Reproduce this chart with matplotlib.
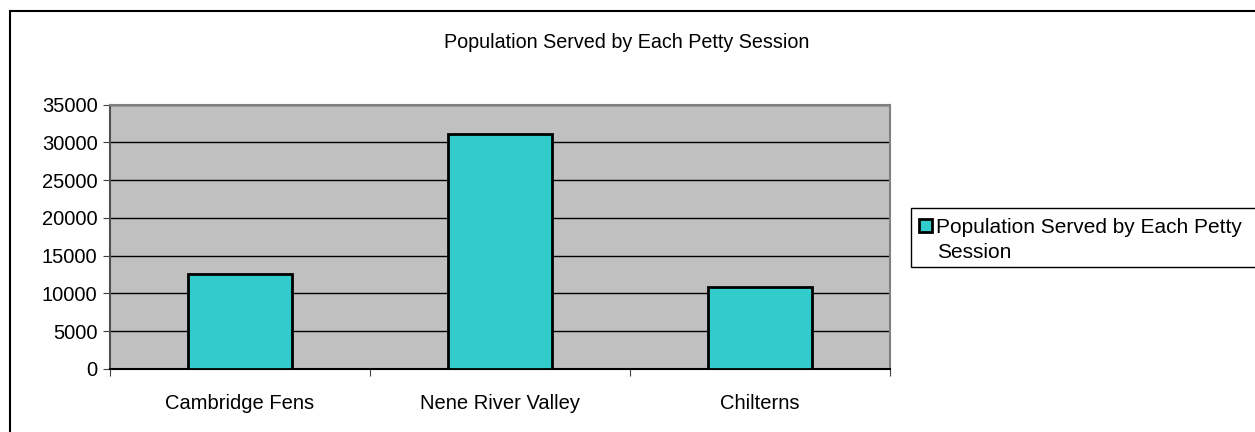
import matplotlib.pyplot as plt
from matplotlib.patches import Rectangle

plt.rcParams['font.family'] = ['Liberation Sans', 'DejaVu Sans']

categories = ['Cambridge Fens', 'Nene River Valley', 'Chilterns']
population = [12600, 31150, 10800]
yticks = [0, 5000, 10000, 15000, 20000, 25000, 30000, 35000]
series_name = 'Population Served by Each Petty Session'

fig = plt.figure(figsize=(12.55, 4.32), dpi=100)

# outer chart border (runs off right and bottom edges)
fig.patches.append(Rectangle((10 / 1255, -0.1), 1.2, 1 - 11 / 432 + 0.1,
                             transform=fig.transFigure, fill=False,
                             edgecolor='black', linewidth=1.5))

ax = fig.add_axes([110 / 1255, 1 - 369 / 432, 780 / 1255, 264.5 / 432])
ax.set_facecolor('#c0c0c0')

x = range(len(categories))
bars = ax.bar(x, population, width=0.4, color='#33cccc', edgecolor='black',
              linewidth=2, zorder=3, label=series_name)

ax.set_xlim(-0.5, 2.5)
ax.set_ylim(0, 35000)
ax.set_yticks(yticks)
ax.set_yticklabels([str(v) for v in yticks], fontsize=14.5)
ax.yaxis.grid(True, color='black', linewidth=1)
ax.set_axisbelow(True)

ax.set_xticks([-0.5, 0.5, 1.5, 2.5])
ax.set_xticklabels([])
ax.set_xticks(list(x), minor=True)
ax.set_xticklabels(categories, minor=True, fontsize=14.5)
ax.tick_params(axis='x', which='minor', length=0, pad=18)
ax.tick_params(axis='x', which='major', length=5, color='#404040')
ax.tick_params(axis='y', length=5, color='#404040', pad=4)

for s in ['top', 'right']:
    ax.spines[s].set_color('#808080')
    ax.spines[s].set_linewidth(1.5)
ax.spines['left'].set_color('#505050')
ax.spines['left'].set_linewidth(1.5)
ax.spines['bottom'].set_color('black')
ax.spines['bottom'].set_linewidth(1.5)

fig.text(627 / 1255, 1 - 43 / 432, series_name, ha='center', va='center',
         fontsize=14.2)

# legend box runs past the right edge in the original; label wraps
fig.patches.append(Rectangle((911 / 1255, 1 - 267 / 432), 0.3, 59 / 432,
                             transform=fig.transFigure, fill=False,
                             edgecolor='black', linewidth=1))
leg = fig.legend([bars], ['Population Served by Each Petty'],
                 loc='upper left', bbox_to_anchor=(917 / 1255, 1 - 216 / 432),
                 fontsize=15, frameon=False, handlelength=0.6,
                 handleheight=0.6, handletextpad=0.2, borderpad=0.1,
                 borderaxespad=0)
fig.text(937 / 1255, 1 - 252 / 432, 'Session', ha='left', va='center',
         fontsize=15)

fig.savefig('out.png', dpi=100)
